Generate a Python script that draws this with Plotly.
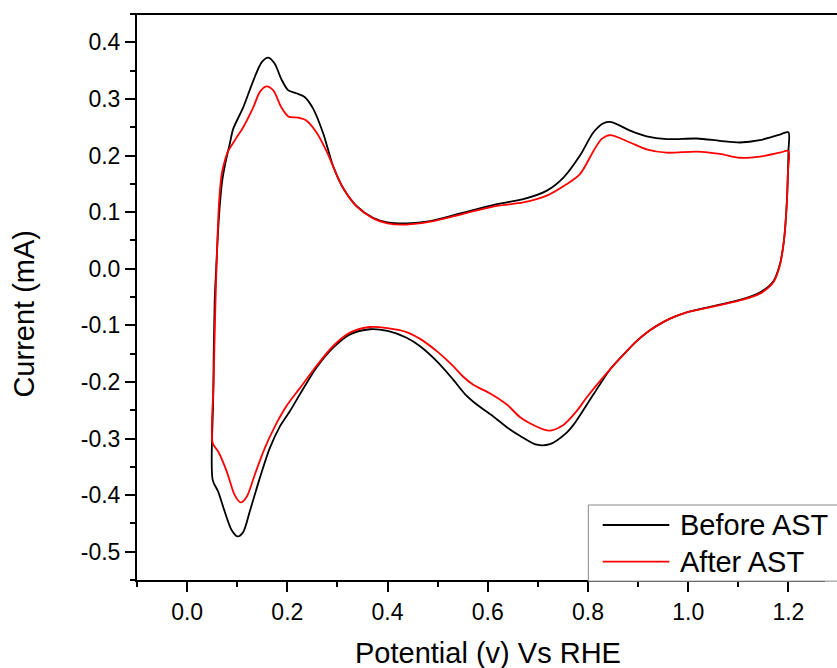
import plotly.graph_objects as go

# ---- Data ----
before_x = [0.051, 0.052, 0.055, 0.058, 0.062, 0.066, 0.070, 0.076, 0.085, 0.092, 0.112, 0.132, 0.149,
            0.162, 0.175, 0.188, 0.202, 0.218, 0.235, 0.252, 0.272, 0.291, 0.311, 0.338, 0.371, 0.400,
            0.438, 0.485, 0.551, 0.618, 0.671, 0.718, 0.751, 0.784, 0.811, 0.831, 0.847, 0.884, 0.917,
            0.957, 1.017, 1.063, 1.103, 1.143, 1.183, 1.200,
            1.200, 1.199, 1.197, 1.191, 1.183, 1.170, 1.143, 1.103, 1.050, 0.997, 0.967, 0.937, 0.917,
            0.897, 0.877, 0.844, 0.811, 0.771, 0.757, 0.724, 0.698, 0.664, 0.638, 0.611, 0.578, 0.555,
            0.531, 0.500, 0.465, 0.438, 0.400, 0.365, 0.325, 0.291, 0.258, 0.225, 0.205, 0.185, 0.165,
            0.145, 0.125, 0.112, 0.101, 0.089, 0.075, 0.062, 0.051]
before_y = [-0.373, -0.230, -0.057, 0.000, 0.070, 0.120, 0.155, 0.185, 0.220, 0.247, 0.285, 0.332, 0.365,
            0.373, 0.362, 0.335, 0.315, 0.310, 0.303, 0.282, 0.238, 0.182, 0.143, 0.111, 0.090, 0.082,
            0.080, 0.084, 0.099, 0.114, 0.123, 0.138, 0.161, 0.200, 0.241, 0.257, 0.259, 0.244, 0.234,
            0.229, 0.230, 0.226, 0.223, 0.227, 0.237, 0.241,
            0.208, 0.170, 0.120, 0.049, 0.008, -0.022, -0.042, -0.055, -0.066, -0.077, -0.087, -0.101, -0.113,
            -0.128, -0.146, -0.178, -0.222, -0.276, -0.290, -0.310, -0.311, -0.295, -0.280, -0.261, -0.240, -0.222,
            -0.196, -0.165, -0.137, -0.122, -0.110, -0.107, -0.116, -0.140, -0.175, -0.222, -0.252, -0.279, -0.317,
            -0.370, -0.429, -0.465, -0.473, -0.462, -0.429, -0.394, -0.373]

after_x = [0.051, 0.053, 0.056, 0.060, 0.064, 0.069, 0.075, 0.082, 0.099, 0.112, 0.132, 0.145, 0.158,
           0.172, 0.188, 0.202, 0.222, 0.238, 0.258, 0.278, 0.298, 0.311, 0.338, 0.371, 0.400, 0.438,
           0.485, 0.551, 0.618, 0.671, 0.718, 0.757, 0.784, 0.811, 0.827, 0.844, 0.884, 0.917, 0.957,
           1.017, 1.063, 1.103, 1.143, 1.183, 1.200,
           1.199, 1.197, 1.191, 1.183, 1.170, 1.143, 1.103, 1.050, 0.997, 0.967, 0.937, 0.917, 0.897,
           0.877, 0.844, 0.797, 0.777, 0.751, 0.721, 0.684, 0.664, 0.638, 0.604, 0.571, 0.550, 0.531,
           0.500, 0.465, 0.438, 0.400, 0.365, 0.325, 0.291, 0.258, 0.225, 0.198, 0.175, 0.155, 0.135,
           0.119, 0.107, 0.095, 0.079, 0.062, 0.051]
after_y = [-0.308, -0.200, -0.080, 0.040, 0.120, 0.167, 0.190, 0.208, 0.232, 0.250, 0.285, 0.312, 0.322,
           0.315, 0.285, 0.269, 0.267, 0.262, 0.241, 0.208, 0.167, 0.143, 0.110, 0.089, 0.080, 0.078,
           0.083, 0.097, 0.111, 0.117, 0.129, 0.149, 0.167, 0.208, 0.229, 0.236, 0.223, 0.211, 0.205,
           0.207, 0.203, 0.196, 0.198, 0.205, 0.208,
           0.170, 0.120, 0.049, 0.006, -0.024, -0.044, -0.056, -0.067, -0.077, -0.087, -0.101, -0.113, -0.128,
           -0.146, -0.178, -0.228, -0.252, -0.276, -0.286, -0.273, -0.262, -0.240, -0.220, -0.205, -0.190, -0.172,
           -0.147, -0.124, -0.112, -0.105, -0.103, -0.113, -0.137, -0.172, -0.211, -0.243, -0.279, -0.317, -0.364,
           -0.403, -0.413, -0.400, -0.358, -0.323, -0.308]

series_names = ["Before AST", "After AST"]
series_colors = ["#000000", "#ff0000"]
x_tick_vals = [0.0, 0.2, 0.4, 0.6, 0.8, 1.0, 1.2]
x_tick_text = ["0.0", "0.2", "0.4", "0.6", "0.8", "1.0", "1.2"]
y_tick_vals = [-0.5, -0.4, -0.3, -0.2, -0.1, 0.0, 0.1, 0.2, 0.3, 0.4]
y_tick_text = ["-0.5", "-0.4", "-0.3", "-0.2", "-0.1", "0.0", "0.1", "0.2", "0.3", "0.4"]

FONT = "Liberation Sans, Arial, sans-serif"

fig = go.Figure()
for xs, ys, name, color in [(before_x, before_y, series_names[0], series_colors[0]),
                            (after_x, after_y, series_names[1], series_colors[1])]:
    fig.add_trace(go.Scatter(x=xs, y=ys, mode="lines", name=name, showlegend=False,
                             line=dict(color=color, width=1.8, shape="spline", smoothing=0.8)))

# frame lines running on to the (cropped) right edge of the picture
frame_shapes = [
    dict(type="line", xref="paper", yref="paper", x0=-0.0087, x1=1.02, y0=1, y1=1,
         line=dict(color="#000000", width=2), layer="above"),
    dict(type="line", xref="paper", yref="paper", x0=0.99, x1=1.02, y0=0, y1=0,
         line=dict(color="#000000", width=2), layer="above"),
]

# Legend drawn as a framed key box in the lower right (paper coordinates)
legend_shapes = [dict(type="rect", xref="paper", yref="paper", x0=0.656, x1=1.03, y0=-0.002, y1=0.1325,
                      line=dict(color="#888888", width=1), fillcolor="white", layer="above")]
legend_annots = []
key_rows = [0.0972, 0.0323]
for row_y, name, color in zip(key_rows, series_names, series_colors):
    legend_shapes.append(dict(type="line", xref="paper", yref="paper", x0=0.6769, x1=0.7737,
                              y0=row_y, y1=row_y, line=dict(color=color, width=1.8), layer="above"))
    legend_annots.append(dict(text=name, xref="paper", yref="paper", x=0.7868, y=row_y,
                              xanchor="left", yanchor="middle", showarrow=False,
                              font=dict(family=FONT, size=29, color="#000000")))

title_annots = [
    dict(text="Current (mA)", textangle=-90, xref="paper", yref="paper",
         x=-0.1648, y=0.47, xanchor="center", yanchor="middle", showarrow=False,
         font=dict(family=FONT, size=29, color="#000000")),
    dict(text="Potential (v) Vs RHE", xref="paper", yref="paper",
         x=0.5102, y=-0.129, xanchor="center", yanchor="middle", showarrow=False,
         font=dict(family=FONT, size=29, color="#000000")),
]

fig.update_layout(
    width=837, height=668,
    margin=dict(l=137, r=12, t=14, b=88, autoexpand=False),
    paper_bgcolor="white", plot_bgcolor="white",
    font=dict(family=FONT, color="#000000", size=23),
    showlegend=False,
    xaxis=dict(range=[-0.1, 1.273], showgrid=False, zeroline=False, automargin=False,
               showline=True, linecolor="#000000", linewidth=2, mirror=False,
               ticks="outside", ticklen=10, tickwidth=2, tickcolor="#000000",
               tickvals=x_tick_vals, ticktext=x_tick_text,
               tickfont=dict(family=FONT, size=23, color="#000000"),
               minor=dict(dtick=0.1, tick0=0, ticks="outside", ticklen=5, tickwidth=2,
                          tickcolor="#000000", showgrid=False)),
    yaxis=dict(range=[-0.55, 0.45], showgrid=False, zeroline=False, automargin=False,
               showline=True, linecolor="#000000", linewidth=2, mirror=False,
               ticks="outside", ticklen=10, tickwidth=2, tickcolor="#000000",
               tickvals=y_tick_vals, ticktext=y_tick_text,
               tickfont=dict(family=FONT, size=23, color="#000000"),
               minor=dict(dtick=0.05, tick0=0, ticks="outside", ticklen=5, tickwidth=2,
                          tickcolor="#000000", showgrid=False)),
    shapes=frame_shapes + legend_shapes,
    annotations=title_annots + legend_annots,
)

fig.write_html("out.html")
